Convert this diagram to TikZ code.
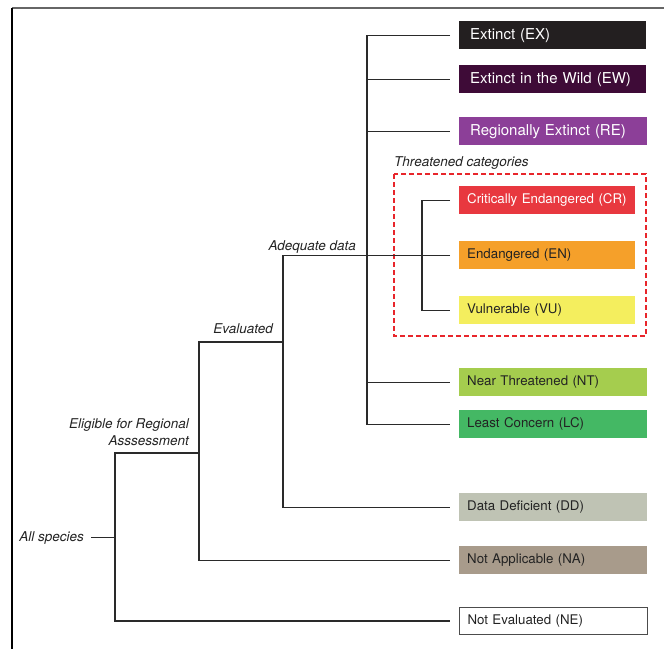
\documentclass[tikz,border=0pt]{standalone}
\usepackage{fontspec}
\setmainfont{TeX Gyre Heros}
\definecolor{cEX}{HTML}{231F20}
\definecolor{cEW}{HTML}{3E0B37}
\definecolor{cRE}{HTML}{8C3F98}
\definecolor{cCR}{HTML}{E8383F}
\definecolor{cEN}{HTML}{F5A02A}
\definecolor{cVU}{HTML}{F4EE5E}
\definecolor{cNT}{HTML}{A5CD4E}
\definecolor{cLC}{HTML}{44B864}
\definecolor{cDD}{HTML}{BFC3B4}
\definecolor{cNA}{HTML}{A89B8B}
\definecolor{txtdark}{HTML}{232323}
\definecolor{linegray}{HTML}{2A2A2A}
\definecolor{dashred}{HTML}{E8252B}
\begin{document}
\begin{tikzpicture}[x=1pt,y=-1pt,
  cat/.style={anchor=north west, minimum height=28pt, inner ysep=0pt, inner xsep=8pt,
    text width=172pt, align=left, font=\fontsize{13.3}{16}\selectfont, text=txtdark},
  catthr/.style={cat, text width=160pt},
  catbig/.style={cat, inner xsep=11pt, text width=165pt, font=\fontsize{15}{18}\selectfont, text=white},
  lbl/.style={font=\fontsize{13.5}{17}\selectfont\itshape, text=txtdark, inner sep=0pt},
  conn/.style={line width=1.2pt, draw=linegray},
  gap/.style={xshift=-9pt},
  threat/.style={draw=dashred, line width=1.8pt, dash pattern=on 5pt off 3pt},
]
\useasboundingbox (0,0) rectangle (665,649);
% frame
\draw[line width=1.1pt, draw=black!60] (12,8) -- (664,8);
\draw[line width=1.1pt, draw=black] (12,8) -- (12,649);

% category boxes
\node[catbig, fill=cEX] (ex) at (459,21) {Extinct (EX)};
\node[catbig, fill=cEW] (ew) at (459,65) {Extinct in the Wild (EW)};
\node[catbig, fill=cRE, text width=166pt] (re) at (459,117) {Regionally Extinct (RE)};
\node[catthr, fill=cCR, text=white] (cr) at (459,186) {Critically Endangered (CR)};
\node[catthr, fill=cEN] (en) at (459,241) {Endangered (EN)};
\node[catthr, fill=cVU] (vu) at (459,296) {Vulnerable (VU)};
\node[cat, fill=cNT] (nt) at (459,368) {Near Threatened (NT)};
\node[cat, fill=cLC] (lc) at (459,410) {Least Concern (LC)};
\node[cat, fill=cDD] (dd) at (459,493) {Data Deficient (DD)};
\node[cat, fill=cNA] (na) at (459,546) {Not Applicable (NA)};
\node[cat, fill=white, draw=black!70, line width=1pt, minimum height=27pt] (ne) at (459,607) {Not Evaluated (NE)};

% threatened group
\draw[threat] (394,174) rectangle (646,336);
\node[lbl, anchor=base west] (thr) at (394,166) {Threatened categories};

% labels
\node[lbl, anchor=base east] (adq) at (356,250) {Adequate data};
\node[lbl, anchor=base east] (evl) at (273,333) {Evaluated};
\node[lbl, anchor=south east, align=right] (elg) at (189,446) {Eligible for Regional\\Asssessment};
\node[lbl, anchor=base east] (alls) at (84,541) {All species};

% junction coordinates
\coordinate (a1) at (115,453);
\coordinate (e0) at (199,453);
\coordinate (e1) at (199,342);
\coordinate (d0) at (283,342);
\coordinate (m) at (367,0);
\coordinate (t) at (422,0);

% connectors
\draw[conn] ([xshift=7pt]alls.east) -- (alls.east -| a1);
\draw[conn] (e0) -- (a1) |- ([gap]ne.west);
\draw[conn] (d0) -- (e1) |- ([gap]na.west);
\draw[conn] ([gap]en.west) -- (en.west -| d0) |- ([gap]dd.west);
\draw[conn] (d0) -- (en.west -| d0);
\draw[conn] ([gap]ex.west) -- (ex.west -| m) -- (lc.west -| m) -- ([gap]lc.west);
\draw[conn] (ew.west -| m) -- ([gap]ew.west);
\draw[conn] (re.west -| m) -- ([gap]re.west);
\draw[conn] (nt.west -| m) -- ([gap]nt.west);
\draw[conn] ([gap]cr.west) -- (cr.west -| t) -- (vu.west -| t) -- ([gap]vu.west);
\end{tikzpicture}
\end{document}
